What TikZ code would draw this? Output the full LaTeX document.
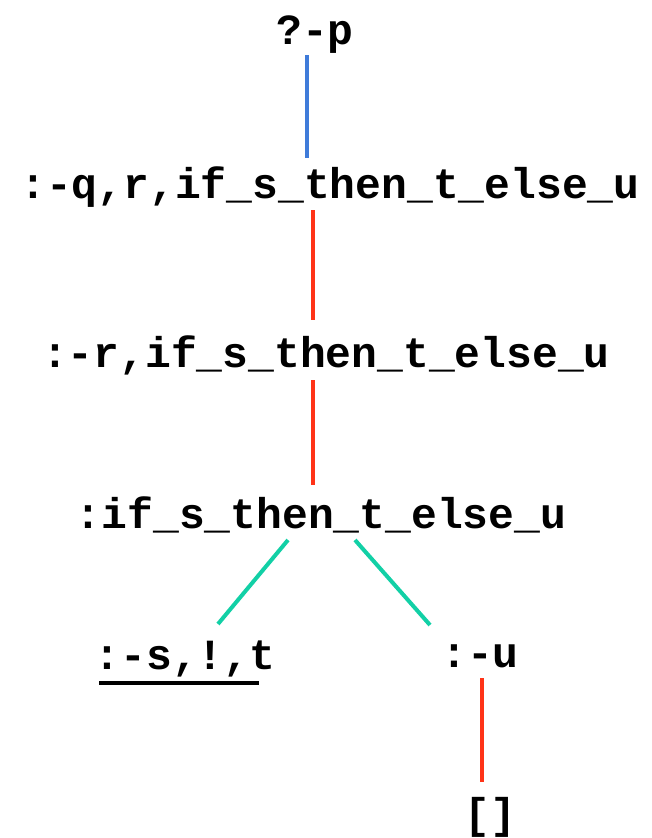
\documentclass[tikz,border=0pt]{standalone}
\usepackage{fontspec}
\setmonofont{Liberation Mono}
\usetikzlibrary{positioning, calc}
\definecolor{callblue}{HTML}{3F7BD9}
\definecolor{callred}{HTML}{FF3318}
\definecolor{callteal}{HTML}{12D0A6}
\begin{document}
\begin{tikzpicture}[
        x=1pt, y=-1pt,
        goal/.style={inner sep=0pt, anchor=base, font=\fontsize{43}{50}\selectfont\ttfamily\bfseries},
        edge/.style={line width=4pt, #1},
        edge/.default=callred,
    ]
    \useasboundingbox (0,0) rectangle (651,838);

    % ---- GOALS ----
    \node[goal] (query) at (315,44) {?-p};
    \node[goal] (clause-q) at (330,198) {:-q,r,if\_s\_then\_t\_else\_u};
    \node[goal] (clause-r) at (326,367) {:-r,if\_s\_then\_t\_else\_u};
    \node[goal] (ite) at (321,528) {:if\_s\_then\_t\_else\_u};
    \node[goal] (then-br) at (185,669) {:-s,!,t};
    \node[goal] (else-br) at (480,667) {:-u};
    \node[goal] (empty) at (490,828) {[]};

    % ---- CONNECTOR ENDS ----
    \coordinate (query-s) at (307,55);
    \coordinate (clause-q-n) at (307,158);
    \coordinate (clause-q-s) at (313,210);
    \coordinate (clause-r-n) at (313,320);
    \coordinate (clause-r-s) at (313,380);
    \coordinate (ite-n) at (313,485);
    \coordinate (ite-sw) at (288,540);
    \coordinate (ite-se) at (355,540);
    \coordinate (then-br-n) at (218,624);
    \coordinate (else-br-n) at (430,625);
    \coordinate (else-br-s) at (482,678);
    \coordinate (empty-n) at (482,782);

    % ---- EDGES ----
    \draw[edge=callblue] (query-s) -- (clause-q-n);
    \draw[edge] (clause-q-s) -- (clause-r-n);
    \draw[edge] (clause-r-s) -- (ite-n);
    \draw[edge=callteal] (ite-sw) -- (then-br-n);
    \draw[edge=callteal] (ite-se) -- (else-br-n);
    \draw[edge] (else-br-s) -- (empty-n);

    % ---- CUT MARK ----
    \draw[line width=4pt] ($(then-br.base west)+(5,14)$) -- ($(then-br.base east)+(-17,14)$);

    \end{tikzpicture}
\end{document}
